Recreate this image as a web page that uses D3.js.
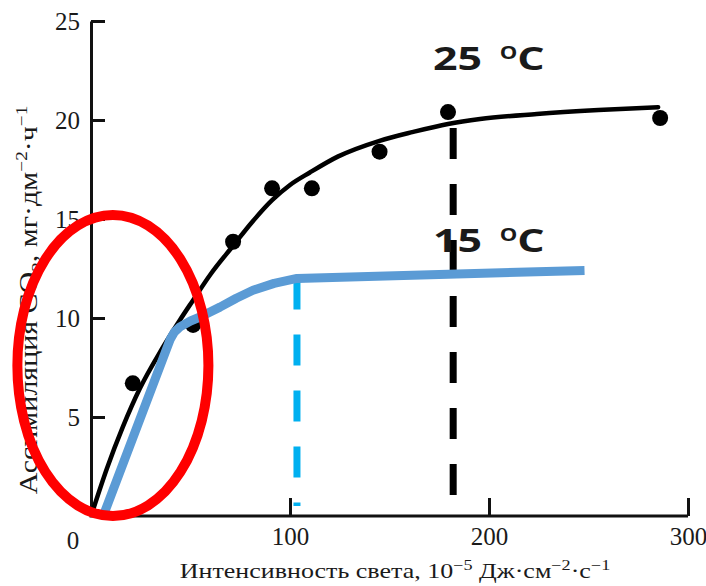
<!DOCTYPE html>
<html>
<head>
<meta charset="utf-8">
<script src="https://cdn.jsdelivr.net/npm/d3@7"></script>
<style>
  body { margin: 0; background: #fff; }
  svg text { fill: #1a1a1a; }
</style>
</head>
<body>
<div id="chart"></div>
<script>
// measured points of the 25 oC curve (dots)
var dots25X = [21, 51.3, 71.4, 91, 111, 145, 179.4, 286];
var dots25Y = [6.7, 9.65, 13.85, 16.55, 16.55, 18.4, 20.4, 20.1];

// fitted 25 oC curve
var curve25X = [1, 8, 16, 24.6, 35.7, 44.7, 51.3, 60, 71.4, 81, 91, 100, 110, 124, 145, 162, 179.4, 195.5, 224, 255, 285];
var curve25Y = [0.3, 2.4, 4.5, 6.45, 8.45, 9.9, 10.9, 12.2, 13.65, 14.85, 15.95, 16.72, 17.35, 18.15, 18.95, 19.4, 19.8, 20.05, 20.3, 20.5, 20.65];

// 15 oC curve (blue), straight rise then a bend
var curve15X = [6.5, 39.7, 42, 44.7, 50, 54.8, 64.8, 73, 81.4, 92, 103.5, 248];
var curve15Y = [0.1, 8.9, 9.3, 9.55, 9.85, 10.05, 10.55, 11.0, 11.4, 11.75, 12.0, 12.4];

// saturation markers
var sat25 = {x: 182, y0: 19.6, y1: 0.7};
var sat15 = {x: 103.5, y0: 12.0, y1: 0.5};

var xTicks = [100, 200, 300];
var yTicks = [5, 10, 15, 20, 25];

var W = 706, H = 586;

var svg = d3.select("#chart").append("svg")
    .attr("width", W)
    .attr("height", H);

var x = d3.scaleLinear().domain([0, 300]).range([91, 688]);
var y = d3.scaleLinear().domain([0, 25]).range([516, 21]);

// axes
var xAxis = svg.append("g")
    .attr("transform", "translate(0," + y(0) + ")")
    .call(d3.axisBottom(x).tickValues(xTicks).tickSizeInner(-18).tickSizeOuter(0).tickPadding(11));
var yAxis = svg.append("g")
    .attr("transform", "translate(" + x(0) + ",0)")
    .call(d3.axisLeft(y).tickValues(yTicks).tickSizeInner(-14).tickSizeOuter(0).tickPadding(11));

[xAxis, yAxis].forEach(function(a) {
    a.select(".domain").attr("stroke", "#111").attr("stroke-width", 3);
    a.selectAll(".tick line").attr("stroke", "#111").attr("stroke-width", 3);
    a.selectAll(".tick text")
        .style("font-family", "'Liberation Serif', 'Times New Roman', serif")
        .style("font-size", "25px")
        .attr("fill", "#1a1a1a");
});
// extend axis lines so they meet at the corner
xAxis.select(".domain").attr("d", "M" + (x(0) - 1.5) + ",0H" + x(300));

// origin label
svg.append("text")
    .attr("x", x(0) - 18)
    .attr("y", y(0) + 33)
    .attr("text-anchor", "middle")
    .style("font-family", "'Liberation Serif', serif")
    .style("font-size", "25px")
    .text("0");

// axis titles
var xt = svg.append("text")
    .attr("transform", "translate(395,578) scale(1.3,1)")
    .attr("text-anchor", "middle")
    .style("font-family", "'Liberation Serif', serif")
    .style("font-size", "20px");
xt.append("tspan").text("Интенсивность света, 10");
xt.append("tspan").attr("dy", -8).style("font-size", "14px").text("−5");
xt.append("tspan").attr("dy", 8).text(" Дж·см");
xt.append("tspan").attr("dy", -8).style("font-size", "14px").text("−2");
xt.append("tspan").attr("dy", 8).text("·с");
xt.append("tspan").attr("dy", -8).style("font-size", "14px").text("−1");

var yt = svg.append("text")
    .attr("transform", "translate(37,300) rotate(-90) scale(1.2,1)")
    .attr("text-anchor", "middle")
    .style("font-family", "'Liberation Serif', serif")
    .style("font-size", "25px");
yt.append("tspan").text("Ассимиляция СО");
yt.append("tspan").attr("dy", 6).style("font-size", "16px").text("2");
yt.append("tspan").attr("dy", -6).text(", мг·дм");
yt.append("tspan").attr("dy", -10).style("font-size", "16px").text("−2");
yt.append("tspan").attr("dy", 10).text("·ч");
yt.append("tspan").attr("dy", -10).style("font-size", "16px").text("−1");

// 25 oC curve
svg.append("path")
    .datum(d3.zip(curve25X, curve25Y))
    .attr("fill", "none")
    .attr("stroke", "#000")
    .attr("stroke-width", 4.5)
    .attr("stroke-linecap", "round")
    .attr("d", d3.line()
        .x(function(d) { return x(d[0]); })
        .y(function(d) { return y(d[1]); })
        .curve(d3.curveMonotoneX));

svg.selectAll(".dot")
    .data(d3.zip(dots25X, dots25Y))
    .enter()
    .append("circle")
    .attr("class", "dot")
    .attr("cx", function(d) { return x(d[0]); })
    .attr("cy", function(d) { return y(d[1]); })
    .attr("r", 8)
    .attr("fill", "#000");

// dashed verticals
svg.append("line")
    .attr("x1", x(sat25.x)).attr("x2", x(sat25.x))
    .attr("y1", y(sat25.y0)).attr("y2", y(sat25.y1))
    .attr("stroke", "#000")
    .attr("stroke-width", 7)
    .attr("stroke-dasharray", "31 25");

svg.append("line")
    .attr("x1", x(sat15.x)).attr("x2", x(sat15.x))
    .attr("y1", y(sat15.y0)).attr("y2", y(sat15.y1))
    .attr("stroke", "#00b0f0")
    .attr("stroke-width", 7)
    .attr("stroke-dasharray", "31 25");

// 15 oC curve
svg.append("path")
    .datum(d3.zip(curve15X, curve15Y))
    .attr("fill", "none")
    .attr("stroke", "#5b9bd5")
    .attr("stroke-width", 9)
    .attr("stroke-linejoin", "round")
    .attr("d", d3.line()
        .x(function(d) { return x(d[0]); })
        .y(function(d) { return y(d[1]); }));

// red ellipse highlight
svg.append("ellipse")
    .attr("cx", x(11))
    .attr("cy", y(7.6))
    .attr("rx", x(48) - x(0))
    .attr("ry", y(0) - y(7.6))
    .attr("fill", "none")
    .attr("stroke", "#ff0000")
    .attr("stroke-width", 10);

// temperature labels
function tempLabel(tx, ty, t) {
    var g = svg.append("text")
        .attr("transform", "translate(" + tx + "," + ty + ") scale(1.3,1)")
        .style("font-family", "'Open Sans', 'Liberation Sans', sans-serif")
        .style("font-weight", "bold")
        .style("font-size", "33px")
        .attr("fill", "#000");
    g.append("tspan").text(t + " ");
    g.append("tspan").attr("dx", 5).attr("dy", -11.5).style("font-size", "17px").text("O");
    g.append("tspan").attr("dy", 11.5).text("C");
}
tempLabel(433, 70, "25");
tempLabel(433, 252, "15");
</script>
</body>
</html>
